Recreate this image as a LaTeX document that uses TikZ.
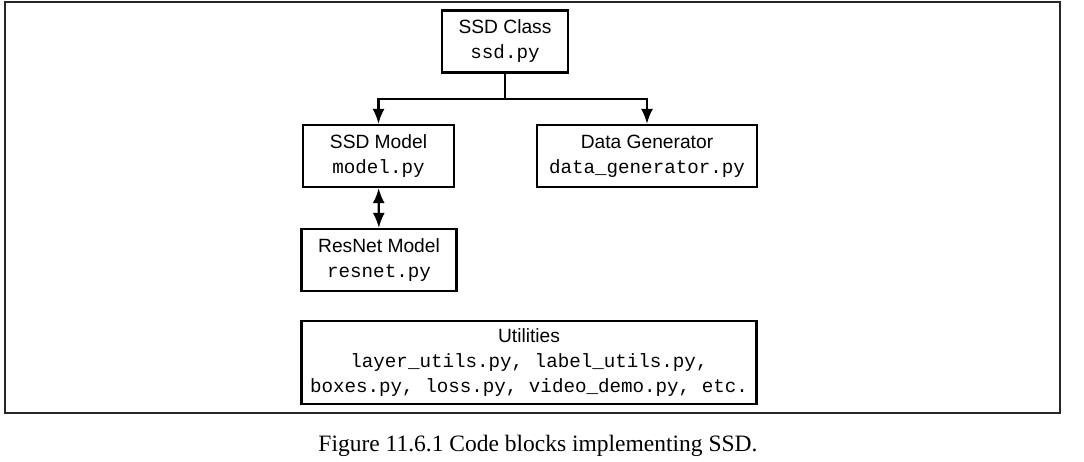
\documentclass[tikz,border=0pt]{standalone}
\usepackage{fontspec}
\setmainfont{Liberation Sans}
\setmonofont{Liberation Mono}
\newfontfamily\capfont{Liberation Serif}
\usetikzlibrary{arrows.meta}

\begin{document}
\begin{tikzpicture}[x=1pt, y=-1pt,
    block/.style={draw, line width=2.2pt, align=center, inner sep=0pt,
      minimum height=62pt, font=\fontsize{19.2}{25}\selectfont},
    link/.style={line width=2.2pt, -{Latex[length=15pt, width=12pt]}}]
    \useasboundingbox (0, 0) rectangle (1084, 462);

    % 枠
    \draw[line width=1.3pt, black!85] (5, 2) rectangle (1060, 413);

    % ノード
    \node[block, minimum width=126pt] (ssd) at (505, 41.5) {SSD Class\\\texttt{ssd.py}};
    \node[block, minimum width=151pt] (model) at (378.5, 156) {SSD Model\\\texttt{model.py}};
    \node[block, minimum width=220pt] (gen) at (647, 156) {Data Generator\\\texttt{data\_generator.py}};
    \node[block, minimum width=155pt] (resnet) at (379, 260) {ResNet Model\\\texttt{resnet.py}};
    \node[block, minimum width=455pt, minimum height=83pt] (utils) at (529, 362.5)
      {Utilities\\\texttt{layer\_utils.py, label\_utils.py,}\\\texttt{boxes.py, loss.py, video\_demo.py, etc.}};
    \coordinate (split) at (505, 99);

    % エッジ
    \draw[line width=2.2pt] (ssd) -- (split);
    \draw[link] (split) -| (model);
    \draw[link] (split) -| (gen);
    \draw[link, {Latex[length=15pt, width=12pt]}-{Latex[length=15pt, width=12pt]}] (model) -- (resnet);

    % キャプション
    \node[font=\capfont\fontsize{23.5}{28}\selectfont, anchor=base] (caption) at (538, 451.5)
      {Figure 11.6.1 Code blocks implementing SSD.};
\end{tikzpicture}
\end{document}
